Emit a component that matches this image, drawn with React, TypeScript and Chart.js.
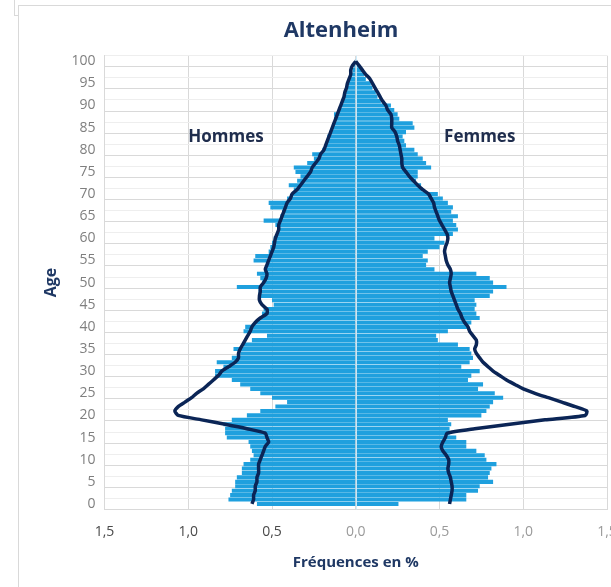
import React, { useEffect, useRef } from "react";
import { Chart, registerables } from "chart.js";

Chart.register(...registerables);

const chartTitle = "Altenheim";
const menLabel = "Hommes";
const womenLabel = "Femmes";
const xAxisTitle = "Fréquences en %";
const yAxisTitle = "Age";

const ages = [
  0, 1, 2, 3, 4, 5, 6, 7, 8, 9,
  10, 11, 12, 13, 14, 15, 16, 17, 18, 19,
  20, 21, 22, 23, 24, 25, 26, 27, 28, 29,
  30, 31, 32, 33, 34, 35, 36, 37, 38, 39,
  40, 41, 42, 43, 44, 45, 46, 47, 48, 49,
  50, 51, 52, 53, 54, 55, 56, 57, 58, 59,
  60, 61, 62, 63, 64, 65, 66, 67, 68, 69,
  70, 71, 72, 73, 74, 75, 76, 77, 78, 79,
  80, 81, 82, 83, 84, 85, 86, 87, 88, 89,
  90, 91, 92, 93, 94, 95, 96, 97, 98, 99,
  100,
];

// Altenheim, men (% of population, magnitude)
const menAltenheim = [
  0.59, 0.76, 0.75, 0.74, 0.72, 0.72, 0.71, 0.68, 0.68, 0.67,
  0.63, 0.61, 0.62, 0.63, 0.64, 0.77, 0.78, 0.78, 0.79, 0.74,
  0.65, 0.57, 0.48, 0.41, 0.5, 0.57, 0.63, 0.69, 0.74, 0.84,
  0.84, 0.79, 0.83, 0.74, 0.69, 0.73, 0.67, 0.62, 0.53, 0.67,
  0.66, 0.6, 0.57, 0.56, 0.55, 0.49, 0.5, 0.57, 0.58, 0.71,
  0.56, 0.57, 0.59, 0.53, 0.53, 0.61, 0.6, 0.52, 0.51, 0.5,
  0.49, 0.47, 0.47, 0.48, 0.55, 0.45, 0.44, 0.51, 0.52, 0.41,
  0.38, 0.37, 0.4, 0.35, 0.33, 0.36, 0.37, 0.29, 0.25, 0.26,
  0.2, 0.18, 0.17, 0.17, 0.155, 0.14, 0.13, 0.13, 0.13, 0.1,
  0.085, 0.08, 0.077, 0.06, 0.055, 0.05, 0.045, 0.03, 0.02, 0.01,
  0.005,
];

// Altenheim, women
const womenAltenheim = [
  0.255, 0.66, 0.66, 0.73, 0.74, 0.82, 0.79, 0.8, 0.81, 0.84,
  0.78, 0.77, 0.72, 0.66, 0.66, 0.6, 0.56, 0.56, 0.57, 0.55,
  0.75, 0.78, 0.8, 0.82, 0.88, 0.83, 0.73, 0.76, 0.67, 0.69,
  0.74, 0.63, 0.68, 0.7, 0.69, 0.68, 0.61, 0.49, 0.48, 0.55,
  0.67, 0.69, 0.74, 0.72, 0.71, 0.72, 0.71, 0.8, 0.82, 0.9,
  0.82, 0.8, 0.72, 0.47, 0.42, 0.43, 0.4, 0.43, 0.5, 0.53,
  0.47, 0.58, 0.61, 0.6, 0.58, 0.61, 0.57, 0.58, 0.55, 0.52,
  0.49, 0.4, 0.39, 0.36, 0.37, 0.37, 0.45, 0.42, 0.4, 0.37,
  0.35, 0.3, 0.29, 0.28, 0.3, 0.35, 0.34, 0.26, 0.25, 0.23,
  0.21, 0.15, 0.13, 0.12, 0.1, 0.09, 0.06, 0.05, 0.04, 0.02,
  0.005,
];

// Reference population, men
const menReference = [
  0.62, 0.61, 0.61, 0.6, 0.6, 0.59, 0.59, 0.58, 0.58, 0.58,
  0.57, 0.56, 0.55, 0.54, 0.52, 0.53, 0.54, 0.65, 0.78, 0.92,
  1.06, 1.08, 1.06, 1.02, 0.98, 0.95, 0.91, 0.88, 0.85, 0.82,
  0.8, 0.76, 0.72, 0.7, 0.7, 0.69, 0.675, 0.66, 0.645, 0.63,
  0.62, 0.6, 0.57, 0.53, 0.53, 0.56, 0.575, 0.575, 0.57, 0.57,
  0.55, 0.535, 0.53, 0.54, 0.53, 0.52, 0.51, 0.5, 0.49, 0.485,
  0.48, 0.47, 0.46, 0.46, 0.45, 0.44, 0.43, 0.42, 0.41, 0.39,
  0.38, 0.35, 0.33, 0.31, 0.29, 0.27, 0.26, 0.24, 0.22, 0.21,
  0.19, 0.18, 0.17, 0.16, 0.15, 0.14, 0.13, 0.12, 0.11, 0.1,
  0.09, 0.08, 0.07, 0.065, 0.055, 0.05, 0.04, 0.03, 0.03, 0.02,
  0.0,
];

// Reference population, women
const womenReference = [
  0.56, 0.565, 0.57, 0.575, 0.575, 0.57, 0.565, 0.555, 0.55, 0.555,
  0.555, 0.54, 0.52, 0.51, 0.52, 0.535, 0.545, 0.71, 0.92, 1.13,
  1.37, 1.38, 1.31, 1.23, 1.15, 1.07, 1.0, 0.95, 0.9, 0.86,
  0.82, 0.79, 0.76, 0.74, 0.72, 0.71, 0.72, 0.72, 0.7, 0.68,
  0.67, 0.65, 0.635, 0.625, 0.61, 0.6, 0.59, 0.58, 0.57, 0.565,
  0.56, 0.565, 0.57, 0.565, 0.55, 0.54, 0.535, 0.53, 0.535, 0.545,
  0.55, 0.545, 0.53, 0.515, 0.5, 0.49, 0.48, 0.47, 0.465, 0.45,
  0.435, 0.4, 0.37, 0.345, 0.32, 0.3, 0.28, 0.275, 0.275, 0.27,
  0.265, 0.26, 0.25, 0.245, 0.235, 0.215, 0.215, 0.215, 0.21, 0.19,
  0.18, 0.16, 0.145, 0.13, 0.115, 0.1, 0.085, 0.06, 0.04, 0.02,
  0.0,
];

const xTickLabels = ["1,5", "1,0", "0,5", "0,0", "0,5", "1,0", "1,5"];
const yTickValues = [0, 5, 10, 15, 20, 25, 30, 35, 40, 45, 50, 55, 60, 65, 70, 75, 80, 85, 90, 95, 100];

const BAR_COLOR = "#1fa0de";
const LINE_COLOR = "#0b2556";
const NAVY = "#1f3864";
const FONT = "'Open Sans', 'DejaVu Sans', sans-serif";

const overlayPlugin = {
  id: "overlay",
  afterDatasetDraw(chart: any, args: any) {
    if (args.index !== 1) return;
    const { ctx, chartArea, scales } = chart;
    const x0 = Math.round(scales.x.getPixelForValue(0)) + 0.5;
    ctx.save();
    ctx.strokeStyle = "rgba(205,235,250,0.95)";
    ctx.lineWidth = 1;
    ctx.beginPath();
    ctx.moveTo(x0, chartArea.top);
    ctx.lineTo(x0, chartArea.bottom);
    ctx.stroke();
    ctx.restore();
  },
  afterDraw(chart: any) {
    const { ctx, scales } = chart;
    ctx.save();
    ctx.textAlign = "center";
    ctx.textBaseline = "middle";
    ctx.fillStyle = NAVY;
    ctx.font = `bold 22px ${FONT}`;
    ctx.fillText(chartTitle, 341, 31);
    ctx.fillStyle = "#1f2d4d";
    ctx.font = `bold 17px ${FONT}`;
    ctx.fillText(menLabel, scales.x.getPixelForValue(-0.775), scales.y.getPixelForValue(82.8));
    ctx.fillText(womenLabel, scales.x.getPixelForValue(0.74), scales.y.getPixelForValue(82.8));
    ctx.restore();
  },
};

export default function App() {
  const ref = useRef<HTMLCanvasElement>(null);

  useEffect(() => {
    if (!ref.current) return;
    Chart.defaults.font.family = FONT;
    const chart = new Chart(ref.current, {
      type: "bar",
      data: {
        datasets: [
          {
            type: "bar",
            label: "Hommes Altenheim",
            data: ages.map((a, i) => ({ x: -menAltenheim[i], y: a })),
            backgroundColor: BAR_COLOR,
            borderWidth: 0,
            grouped: false,
            barPercentage: 0.93,
            categoryPercentage: 1,
            order: 2,
          },
          {
            type: "bar",
            label: "Femmes Altenheim",
            data: ages.map((a, i) => ({ x: womenAltenheim[i], y: a })),
            backgroundColor: BAR_COLOR,
            borderWidth: 0,
            grouped: false,
            barPercentage: 0.93,
            categoryPercentage: 1,
            order: 2,
          },
          {
            type: "line",
            label: "Hommes référence",
            data: ages.map((a, i) => ({ x: -menReference[i], y: a })),
            borderColor: LINE_COLOR,
            borderWidth: 3.5,
            pointRadius: 0,
            tension: 0.2,
            fill: false,
            order: 1,
          },
          {
            type: "line",
            label: "Femmes référence",
            data: ages.map((a, i) => ({ x: womenReference[i], y: a })),
            borderColor: LINE_COLOR,
            borderWidth: 3.5,
            pointRadius: 0,
            tension: 0.2,
            fill: false,
            order: 1,
          },
        ] as any,
      },
      options: {
        indexAxis: "y",
        responsive: false,
        animation: false,
        events: [],
        layout: { padding: { top: 55.7, right: 33, bottom: 15.3, left: 30 } },
        plugins: {
          legend: { display: false },
          tooltip: { enabled: false },
          title: { display: false },
        },
        scales: {
          x: {
            type: "linear",
            min: -1.5,
            max: 1.5,
            ticks: {
              stepSize: 0.5,
              padding: 13.7,
              font: { size: 14 },
              color: (c: any) => (c.tick && c.tick.value < 0 ? "#4a4a4a" : "#9a9a9a"),
              callback: (_v: any, i: number) => xTickLabels[i],
            },
            grid: { color: "#d9d9d9", drawTicks: false },
            border: { color: "#d9d9d9" },
            title: {
              display: true,
              text: xAxisTitle,
              color: NAVY,
              font: { size: 15, weight: "bold" },
              padding: { top: 0, bottom: 0 },
            },
          },
          y: {
            type: "linear",
            min: 0,
            max: 100,
            ticks: {
              stepSize: 2.5,
              autoSkip: false,
              padding: 9,
              font: { size: 14 },
              color: "#7f7f7f",
              callback: (v: any) => (yTickValues.includes(Number(v)) ? String(v) : ""),
            },
            grid: {
              color: (c: any) => (c.tick && c.tick.value % 5 === 0 ? "#d9d9d9" : "#eeeeee"),
              drawTicks: false,
            },
            border: { color: "#d9d9d9" },
            title: {
              display: true,
              text: yAxisTitle,
              color: NAVY,
              font: { size: 16, weight: "bold" },
              padding: { top: 12, bottom: 1.3 },
            },
          },
        },
      } as any,
      plugins: [overlayPlugin],
    });
    return () => chart.destroy();
  }, []);

  return (
    <div
      style={{
        position: "fixed",
        left: 0,
        top: 0,
        width: 611,
        height: 587,
        overflow: "hidden",
        background: "#ffffff",
      }}
    >
      <div
        style={{
          position: "absolute",
          left: 14,
          top: 0,
          width: 4,
          height: 15,
          borderLeft: "1px solid #d9d9d9",
          borderBottom: "1px solid #d9d9d9",
        }}
      />
      <div
        style={{
          position: "absolute",
          left: 18,
          top: 5,
          width: 640,
          height: 640,
          borderLeft: "1px solid #d9d9d9",
          borderTop: "1px solid #d9d9d9",
        }}
      />
      <canvas
        ref={ref}
        width={640}
        height={587}
        style={{ position: "absolute", left: 0, top: 0, width: 640, height: 587 }}
      />
    </div>
  );
}
